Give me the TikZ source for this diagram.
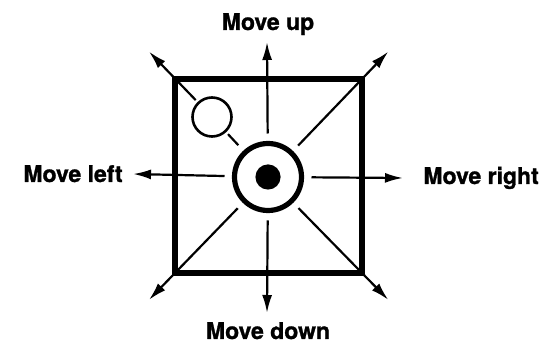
\documentclass[tikz,border=0pt]{standalone}
\usepackage{fontspec}
\setmainfont{TeX Gyre Heros}[BoldFeatures={FakeBold=1.2}]
\usetikzlibrary{arrows.meta,calc}

\tikzset{
  dirlabel/.style={font=\fontsize{11.5}{13}\selectfont\bfseries, inner sep=0pt},
  move/.style={line width=1.1pt, -{Latex[length=9pt,width=5pt]}},
  spoke/.style={line width=1.1pt}
}

\begin{document}
\begin{tikzpicture}[x=0.5pt,y=-0.5pt]
                \useasboundingbox (0,0) rectangle (546,341);
                % the window
                \draw[line width=2.7pt] (175,79) rectangle (362,273);
                \coordinate (A) at (175,79);
                \coordinate (B) at (362,79);
                \coordinate (C) at (362,273);
                \coordinate (D) at (175,273);
                % cursor and target
                \node[circle, draw, line width=2.6pt, minimum size=33.5pt, outer sep=5pt] (ring) at (268,177) {};
                \fill (ring.center) circle (6.3pt);
                \node[circle, draw, line width=1.3pt, minimum size=19.5pt, outer sep=2pt] (spot) at (212,117) {};
                % arrow tips
                \coordinate (tA) at ($(ring.center)!1.28!(A)$);
                \coordinate (tB) at ($(ring.center)!1.28!(B)$);
                \coordinate (tC) at ($(ring.center)!1.28!(C)$);
                \coordinate (tD) at ($(ring.center)!1.28!(D)$);
                \coordinate (up) at (267,42);
                \coordinate (down) at (267,313);
                \coordinate (left) at (133,174);
                \coordinate (right) at (403,178);
                % straight moves
                \draw[move] (ring) -- (up);
                \draw[move] (ring) -- (down);
                \draw[move] (ring) -- (left);
                \draw[move] (ring) -- (right);
                % diagonal moves
                \draw[spoke] (ring) -- (spot);
                \draw[move] (spot) -- (tA);
                \draw[move] (ring) -- (tB);
                \draw[move] (ring) -- (tC);
                \draw[move] (ring) -- (tD);
                % labels
                \node[dirlabel, anchor=base] (uptext) at (268,30) {Move up};
                \node[dirlabel, anchor=base] (downtext) at (268,339) {Move down};
                \node[dirlabel, anchor=base east] (lefttext) at (123,182) {Move left};
                \node[dirlabel, anchor=base west] (righttext) at (423,184) {Move right};
\end{tikzpicture}
\end{document}
